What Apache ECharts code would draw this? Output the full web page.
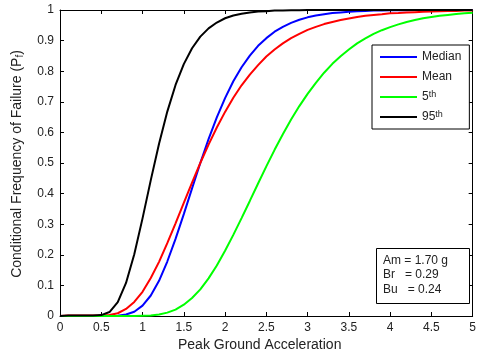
<!DOCTYPE html>
<html>
<head>
<meta charset="utf-8">
<script src="https://cdn.jsdelivr.net/npm/echarts@6/dist/echarts.min.js"></script>
<style>
  html, body { margin: 0; padding: 0; background: #fff; }
  #chart { width: 479px; height: 360px; }
</style>
</head>
<body>
<div id="chart"></div>
<script>
// peak ground acceleration (g)
const pga = [
  0, 0.1, 0.2, 0.3, 0.4, 0.5, 0.6, 0.7, 0.8, 0.9,
  1.0, 1.1, 1.2, 1.3, 1.4, 1.5, 1.6, 1.7, 1.8, 1.9,
  2.0, 2.1, 2.2, 2.3, 2.4, 2.5, 2.6, 2.7, 2.8, 2.9,
  3.0, 3.1, 3.2, 3.3, 3.4, 3.5, 3.6, 3.7, 3.8, 3.9,
  4.0, 4.1, 4.2, 4.3, 4.4, 4.5, 4.6, 4.7, 4.8, 4.9, 5.0
];

const medianCurve = [
  0, 0, 0, 0, 0, 0, 0.0002, 0.001, 0.005, 0.014,
  0.034, 0.067, 0.115, 0.178, 0.252, 0.333, 0.417, 0.5, 0.578, 0.649,
  0.712, 0.767, 0.813, 0.851, 0.883, 0.908, 0.929, 0.945, 0.958, 0.968,
  0.976, 0.982, 0.986, 0.99, 0.992, 0.994, 0.996, 0.997, 0.998, 0.998,
  0.999, 0.999, 0.999, 1, 1, 1, 1, 1, 1, 1, 1
];

const meanCurve = [
  0, 0.002, 0.002, 0.002, 0.002, 0.002, 0.003, 0.009, 0.023, 0.046,
  0.079, 0.124, 0.177, 0.238, 0.303, 0.37, 0.436, 0.5, 0.56, 0.616,
  0.667, 0.713, 0.754, 0.789, 0.82, 0.848, 0.871, 0.891, 0.908, 0.922,
  0.935, 0.945, 0.954, 0.961, 0.967, 0.972, 0.977, 0.981, 0.984, 0.986,
  0.989, 0.99, 0.992, 0.993, 0.994, 0.995, 0.996, 0.997, 0.997, 0.998, 0.998
];

const p5Curve = [
  0, 0, 0, 0, 0, 0, 0, 0, 0, 0,
  0.001, 0.002, 0.005, 0.011, 0.021, 0.037, 0.059, 0.087, 0.123, 0.165,
  0.213, 0.265, 0.32, 0.376, 0.433, 0.489, 0.543, 0.594, 0.642, 0.686,
  0.726, 0.762, 0.795, 0.824, 0.849, 0.871, 0.891, 0.907, 0.922, 0.934,
  0.944, 0.953, 0.961, 0.967, 0.973, 0.977, 0.981, 0.984, 0.987, 0.989, 0.991
];

const p95Curve = [
  0, 0.002, 0.002, 0.002, 0.002, 0.003, 0.013, 0.045, 0.108, 0.202,
  0.319, 0.444, 0.563, 0.668, 0.755, 0.823, 0.875, 0.913, 0.94, 0.959,
  0.973, 0.982, 0.988, 0.992, 0.995, 0.996, 0.998, 0.998, 0.999, 0.999,
  1, 1, 1, 1, 1, 1, 1, 1, 1, 1,
  1, 1, 1, 1, 1, 1, 1, 1, 1, 1, 1
];

const seriesNames = ["Median", "Mean", "5th", "95th"];
const seriesColors = ["#0000ff", "#ff0000", "#00ff00", "#000000"];
const paramLines = ["Am = 1.70 g", "Br   = 0.29", "Bu   = 0.24"];

const FONT = "Liberation Sans, Arial, sans-serif";

const chart = echarts.init(document.getElementById("chart"), null, { renderer: "canvas" });

const toPairs = (ys) => ys.map((y, i) => [pga[i], y]);
const curves = [medianCurve, meanCurve, p5Curve, p95Curve];

const axisBase = {
  type: "value",
  min: 0,
  axisLine: { show: true, onZero: false, lineStyle: { color: "#000", width: 1 } },
  axisTick: { show: true, inside: true, length: 4, lineStyle: { color: "#000" } },
  splitLine: { show: false },
};

chart.setOption({
  animation: false,
  backgroundColor: "#fff",
  grid: { left: 60, right: 3, top: 10, bottom: 44, containLabel: false },
  xAxis: [
    {
      ...axisBase,
      max: 5,
      interval: 0.5,
      position: "bottom",
      axisLabel: { color: "#222", fontFamily: FONT, fontSize: 12, margin: 6 },
    },
    {
      ...axisBase,
      max: 5,
      interval: 0.5,
      position: "top",
      axisLabel: { show: false },
    },
  ],
  yAxis: [
    {
      ...axisBase,
      max: 1,
      interval: 0.1,
      position: "left",
      axisLabel: { color: "#222", fontFamily: FONT, fontSize: 12, margin: 6 },
    },
    {
      ...axisBase,
      max: 1,
      interval: 0.1,
      position: "right",
      axisLabel: { show: false },
    },
  ],
  legend: {
    orient: "vertical",
    left: 372,
    top: 45,
    data: seriesNames.map((name) => ({ name, icon: "rect" })),
    backgroundColor: "#fff",
    borderColor: "#000",
    borderWidth: 1,
    borderRadius: 0,
    padding: [5, 8, 5, 8],
    itemWidth: 37,
    itemHeight: 2,
    itemGap: 6,
    formatter: (name) => {
      if (name === "5th") return "5{sup|th}";
      if (name === "95th") return "95{sup|th}";
      return name;
    },
    textStyle: {
      color: "#222",
      fontFamily: FONT,
      fontSize: 12,
      lineHeight: 14,
      rich: {
        sup: { fontSize: 9, fontFamily: FONT, color: "#222", lineHeight: 14, verticalAlign: "top", padding: [0, 0, 0, 0] },
      },
    },
  },
  graphic: [
    {
      type: "rect",
      left: 376,
      top: 248,
      shape: { width: 93, height: 55 },
      style: { fill: "#fff", stroke: "#000", lineWidth: 1 },
      z: 10,
    },
    {
      type: "text",
      left: 383,
      top: 253,
      style: {
        text: paramLines.join("\n"),
        font: "12px " + FONT,
        fill: "#222",
        lineHeight: 14.5,
      },
      z: 11,
    },
    {
      type: "text",
      left: 178,
      top: 338,
      style: { text: "Peak Ground Acceleration", font: "14px " + FONT, fill: "#222" },
    },
    {
      type: "text",
      x: 17,
      y: 164,
      rotation: Math.PI / 2,
      style: {
        text: "Conditional Frequency of Failure (P{sub|f})",
        font: "14px " + FONT,
        fill: "#222",
        align: "center",
        verticalAlign: "middle",
        rich: {
          sub: { font: "10px " + FONT, fill: "#222", verticalAlign: "top", padding: [6, 0, 0, 0] },
        },
      },
    },
  ],
  series: curves.map((ys, i) => ({
    type: "line",
    name: seriesNames[i],
    data: toPairs(ys),
    showSymbol: false,
    symbol: "none",
    smooth: false,
    lineStyle: { color: seriesColors[i], width: 2 },
    itemStyle: { color: seriesColors[i] },
    z: 2,
  })),
});
</script>
</body>
</html>
